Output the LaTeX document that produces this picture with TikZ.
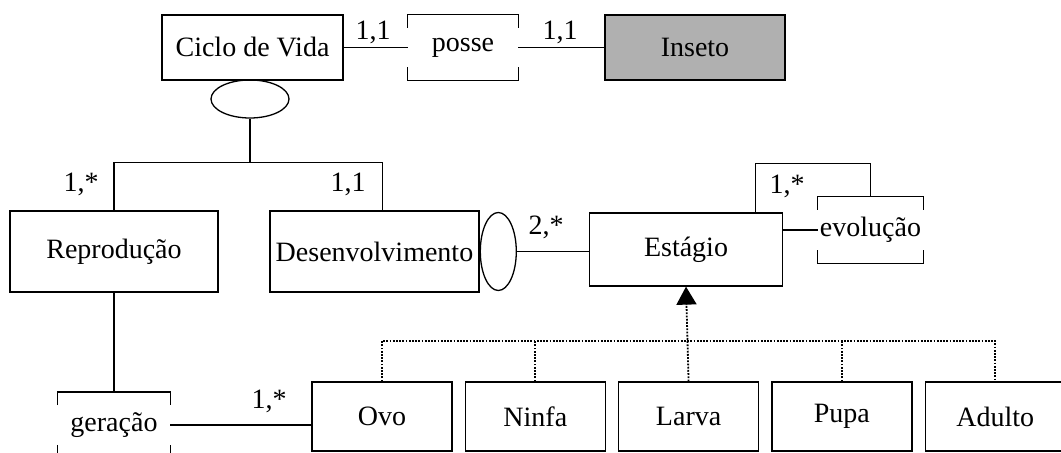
\documentclass[tikz,border=0pt]{standalone}
\usepackage{fontspec}
\setmainfont{Liberation Serif}
\usepackage{tikz}
\usetikzlibrary{positioning,shapes.geometric,arrows.meta}
\definecolor{InsetoGray}{HTML}{B0B0B0}

\begin{document}
\begin{tikzpicture}[
    x=0.5pt, y=-0.5pt,
    node distance=6pt,
    every node/.style={align=center, inner sep=0pt, font=\fontsize{14}{16}\selectfont},
    entity/.style={draw, line width=0.65pt, minimum width=70pt, minimum height=34.5pt},
    relbox/.style={minimum width=55pt, minimum height=32.5pt},
    oval/.style={draw, ellipse, line width=0.65pt},
    card/.style={inner sep=1pt},
    link/.style={line width=0.65pt},
    heranca/.style={line width=0.9pt, dash pattern=on 0.9pt off 0.7pt},
    arrow/.style={heranca, -{Triangle[length=9pt, width=10pt]}}
  ]
  \useasboundingbox (0,0) rectangle (1061,453);
  % topo
  \node[entity, minimum width=90.5pt, minimum height=32.5pt] (ciclo) at (252.5,47.5) {Ciclo de Vida};
  \node[relbox] (posse) at (463,47.5) {posse};
  \node[entity, fill=InsetoGray, minimum width=90pt, minimum height=32.5pt] (inseto) at (695,47.5) {Inseto};
  \node[oval, minimum width=39pt, minimum height=19pt] (ovalciclo) at (250,99) {};
  % meio
  \node[entity, minimum width=104pt, minimum height=40.5pt] (repro) at (114,251.5) {Reprodução};
  \node[entity, minimum width=104.5pt, minimum height=40.5pt] (desenv) at (374.5,251.5) {Desenvolvimento};
  \node[oval, minimum width=18pt, minimum height=39pt, right=0pt of desenv] (ovaldes) {};
  \node[entity, minimum width=96.5pt, minimum height=36.5pt] (estagio) at (686,249.5) {Estágio};
  \node[relbox, minimum width=52.5pt, minimum height=33pt] (evol) at (870.5,230) {evolução};
  % base
  \node[relbox, minimum width=56pt] (gera) at (114,425) {geração};
  \node[entity] (ovo) at (382,416.5) {Ovo};
  \node[entity, right=of ovo] (ninfa) {Ninfa};
  \node[entity, right=of ninfa] (larva) {Larva};
  \node[entity, right=of larva] (pupa) {Pupa};
  \node[entity, right=of pupa] (adulto) {Adulto};
  % cantos dos relacionamentos
  \foreach \r in {posse, evol, gera}{
    \draw[link] ([yshift=-6.5pt]\r.north west) |- (\r.north east) -- ++(0,13);
    \draw[link] ([yshift=6.5pt]\r.south west) |- (\r.south east) -- ++(0,-13);
  }
  % ligacoes
  \draw[link] (ciclo) -- (posse);
  \draw[link] (posse) -- (inseto);
  \draw[link] (ovalciclo.south) -- ++(0,44) coordinate (split);
  \draw[link] (repro.north) |- (split) -| ([xshift=4pt]desenv.north);
  \draw[link] (repro.south) -- (gera.north);
  \draw[link] (gera.east) -- (gera.east -| ovo.west);
  \draw[link] (ovaldes.east) -- (ovaldes.east -| estagio.west);
  \draw[link] ([xshift=-14pt]estagio.north east) -- ++(0,-49) -| (evol.north);
  \draw[link] (evol.west) -- (evol.west -| estagio.east);
  % heranca
  \coordinate (bus) at (0,341);
  \draw[heranca] (ovo.north) |- (adulto.north |- bus) -- (adulto.north);
  \foreach \n in {ninfa, pupa} \draw[heranca] (\n.north) -- (\n.north |- bus);
  \draw[arrow] (larva.north) -- (estagio.south);
  % cardinalidades
  \node[card] (c1) at (373,32) {1,1};
  \node[card] (c2) at (560,32) {1,1};
  \node[card] (c3) at (81,184) {1,*};
  \node[card] (c4) at (348,184) {1,1};
  \node[card] (c5) at (546,227) {2,*};
  \node[card] (c6) at (787,186) {1,*};
  \node[card] (c7) at (269,401) {1,*};
\end{tikzpicture}
\end{document}
